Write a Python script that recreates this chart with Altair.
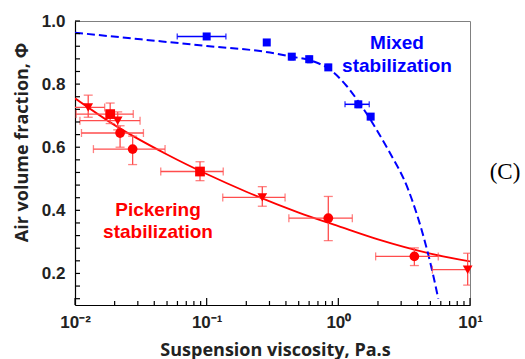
import altair as alt
import pandas as pd

# ---------------- data ----------------
# Pickering stabilization (red): marker shape, viscosity, air fraction, error extents
red_shape = ["tri", "sq", "tri", "circ", "circ", "sq", "tri", "circ", "circ", "tri"]
red_eta = [0.0126, 0.0185, 0.0211, 0.022, 0.0274, 0.089, 0.2646, 0.839, 3.78, 9.6]
red_phi = [0.726, 0.705, 0.684, 0.645, 0.594, 0.523, 0.441, 0.375, 0.254, 0.212]
red_xlo = [0.0095, 0.0102, 0.0109, 0.0112, 0.0138, 0.0448, 0.1325, 0.421, 1.92, 5.18]
red_xhi = [0.0168, 0.0277, 0.0312, 0.0331, 0.0483, 0.1336, 0.394, 1.277, 5.74, 10.0]
red_ylo = [0.695, 0.675, 0.655, 0.600, 0.545, 0.494, 0.413, 0.304, 0.225, 0.163]
red_yhi = [0.765, 0.740, 0.712, 0.668, 0.635, 0.554, 0.475, 0.444, 0.281, 0.264]

# Mixed stabilization (blue squares)
blue_eta = [0.1, 0.286, 0.443, 0.601, 0.839, 1.418, 1.76]
blue_phi = [0.951, 0.932, 0.887, 0.879, 0.853, 0.736, 0.697]
blue_xlo = [0.0598, 0.278, 0.430, 0.585, 0.820, 1.124, 1.70]
blue_xhi = [0.140, 0.294, 0.456, 0.617, 0.858, 1.718, 1.82]
blue_ylo = [0.945, 0.926, 0.877, 0.868, 0.845, 0.726, 0.688]
blue_yhi = [0.957, 0.938, 0.895, 0.888, 0.862, 0.745, 0.706]

# fitted curves
red_fit_eta = [0.01, 0.02, 0.05, 0.1, 0.2, 0.5, 1.0, 2.0, 5.0, 10.0]
red_fit_phi = [0.755, 0.670, 0.577, 0.515, 0.459, 0.393, 0.350, 0.308, 0.263, 0.238]
blue_fit_eta = [0.01, 0.0316, 0.1, 0.303, 0.443, 0.601, 0.705, 0.839, 1.157, 1.418,
                1.738, 1.955, 2.39, 3.40, 4.55, 5.12, 5.74]
blue_fit_phi = [0.963, 0.942, 0.921, 0.900, 0.887, 0.876, 0.866, 0.850, 0.794, 0.745,
                0.690, 0.655, 0.592, 0.465, 0.300, 0.215, 0.120]

# axis ticks
x_major = [0.01, 0.1, 1.0, 10.0]
x_minor = [m * d for d in (0.01, 0.1, 1.0) for m in range(2, 10)]
y_labels = [0.2, 0.4, 0.6, 0.8, 1.0]
y_ticks = [round(0.12 + 0.04 * i, 2) for i in range(23)]

RED = "#ff0000"
RED_ERR = "#ff4d4d"
BLUE = "#0000ff"
W, H = 395, 284

red = pd.DataFrame(dict(shape=red_shape, eta=red_eta, phi=red_phi,
                        xlo=red_xlo, xhi=red_xhi, ylo=red_ylo, yhi=red_yhi))
blue = pd.DataFrame(dict(eta=blue_eta, phi=blue_phi, xlo=blue_xlo, xhi=blue_xhi,
                         ylo=blue_ylo, yhi=blue_yhi))
red_fit = pd.DataFrame(dict(eta=red_fit_eta, phi=red_fit_phi))
blue_fit = pd.DataFrame(dict(eta=blue_fit_eta, phi=blue_fit_phi))

xs = alt.Scale(type="log", domain=[0.01, 10], nice=False)
ys = alt.Scale(domain=[0.1, 1.0], nice=False, zero=False)

label_expr = ("datum.value < 0.05 ? '10⁻²' : datum.value < 0.5 ? '10⁻¹' : "
              "datum.value < 5 ? '10⁰' : '10¹'")

x_axis = alt.Axis(values=x_major, labelExpr=label_expr, ticks=False, grid=False,
                  domainColor="black", domainWidth=1.2, labelFont="Liberation Sans",
                  labelFontWeight="bold", labelFontSize=17, labelColor="#222",
                  labelPadding=9, labelFlush=False,
                  title="Suspension viscosity, Pa.s", titleFont="Open Sans",
                  titleFontWeight="bold", titleFontSize=18, titleColor="#222",
                  titleX=200, titleY=45, titleBaseline="middle")
y_axis = alt.Axis(values=y_labels, format=".1f", ticks=False, grid=False,
                  domainColor="black", domainWidth=1.2, labelFont="Liberation Sans",
                  labelFontWeight="bold", labelFontSize=17, labelColor="#222",
                  labelPadding=10, labelFlush=False,
                  title="Air volume fraction, Φ", titleFont="Open Sans",
                  titleFontWeight="bold", titleFontSize=18, titleColor="#222",
                  titleX=-53, titleY=121, titleAngle=270, titleAlign="center",
                  titleBaseline="middle")


def X(f):
    return alt.X(f, scale=xs, axis=x_axis)


def Y(f):
    return alt.Y(f, scale=ys, axis=y_axis)


base_red = alt.Chart(red)
base_blue = alt.Chart(blue)

red_line = alt.Chart(red_fit).mark_line(color=RED, strokeWidth=1.8, interpolate="monotone",
                                        clip=True).encode(x=X("eta:Q"), y=Y("phi:Q"))
blue_line = alt.Chart(blue_fit).mark_line(color=BLUE, strokeWidth=2, strokeDash=[8, 4],
                                          interpolate="monotone", clip=True).encode(
    x=X("eta:Q"), y=Y("phi:Q"))


def errbars(base, color, width, capx, capy):
    hx = base.mark_rule(color=color, strokeWidth=width, clip=True).encode(
        x=X("xlo:Q"), x2="xhi:Q", y=Y("phi:Q"))
    vy = base.mark_rule(color=color, strokeWidth=width, clip=True).encode(
        x=X("eta:Q"), y=Y("ylo:Q"), y2="yhi:Q")
    cap_l = base.mark_tick(color=color, orient="vertical", size=capx, thickness=width,
                           clip=True).encode(x=X("xlo:Q"), y=Y("phi:Q"))
    cap_r = base.mark_tick(color=color, orient="vertical", size=capx, thickness=width,
                           clip=True).encode(x=X("xhi:Q"), y=Y("phi:Q"))
    cap_b = base.mark_tick(color=color, orient="horizontal", size=capy, thickness=width,
                           clip=True).encode(x=X("eta:Q"), y=Y("ylo:Q"))
    cap_t = base.mark_tick(color=color, orient="horizontal", size=capy, thickness=width,
                           clip=True).encode(x=X("eta:Q"), y=Y("yhi:Q"))
    return [hx, vy, cap_l, cap_r, cap_b, cap_t]


red_err = errbars(base_red, RED_ERR, 1.3, 8, 9)
blue_err = errbars(base_blue, BLUE, 1.5, 6, 5)

red_pts = base_red.mark_point(filled=True, opacity=1, color=RED, size=95).encode(
    x=X("eta:Q"), y=Y("phi:Q"),
    shape=alt.Shape("shape:N", legend=None,
                    scale=alt.Scale(domain=["circ", "sq", "tri"],
                                    range=["circle", "square", "triangle-down"])),
)
blue_pts = base_blue.mark_point(filled=True, opacity=1, color=BLUE, size=64,
                                shape="square").encode(x=X("eta:Q"), y=Y("phi:Q"))

# inward axis ticks
xmaj = alt.Chart(pd.DataFrame({"v": x_major})).mark_rule(color="black", strokeWidth=1.2).encode(
    x=X("v:Q"), y=alt.value(H), y2=alt.value(H - 7))
xmin = alt.Chart(pd.DataFrame({"v": x_minor})).mark_rule(color="black", strokeWidth=1.2).encode(
    x=X("v:Q"), y=alt.value(H), y2=alt.value(H - 4))
ytk = alt.Chart(pd.DataFrame({"v": y_ticks})).mark_rule(color="black", strokeWidth=1.2).encode(
    y=Y("v:Q"), x=alt.value(0), x2=alt.value(5))

# annotations
mixed = alt.Chart(pd.DataFrame({"t": ["Mixed\nstabilization"]})).mark_text(
    color=BLUE, font="Liberation Sans", fontWeight="bold", fontSize=19, lineBreak="\n",
    lineHeight=23, align="center", baseline="middle").encode(
    x=alt.value(322), y=alt.value(22), text="t:N")
picker = alt.Chart(pd.DataFrame({"t": ["Pickering\nstabilization"]})).mark_text(
    color=RED, font="Liberation Sans", fontWeight="bold", fontSize=19, lineBreak="\n",
    lineHeight=22, align="center", baseline="middle").encode(
    x=alt.value(83), y=alt.value(189), text="t:N")
panel = alt.Chart(pd.DataFrame({"t": ["(C)"]})).mark_text(
    color="black", font="Liberation Serif", fontSize=23, align="center",
    baseline="middle").encode(x=alt.value(430), y=alt.value(151), text="t:N")

chart = alt.layer(
    red_line, blue_line, *red_err, *blue_err, red_pts, blue_pts,
    xmaj, xmin, ytk, mixed, picker, panel,
).properties(
    width=W, height=H,
    padding={"left": 75, "top": 21, "right": 55, "bottom": 54},
    autosize=alt.AutoSizeParams(type="none"),
).configure_view(stroke="#808080", strokeWidth=1)

chart.save("out.html", embed_options={"renderer": "svg", "actions": False})
